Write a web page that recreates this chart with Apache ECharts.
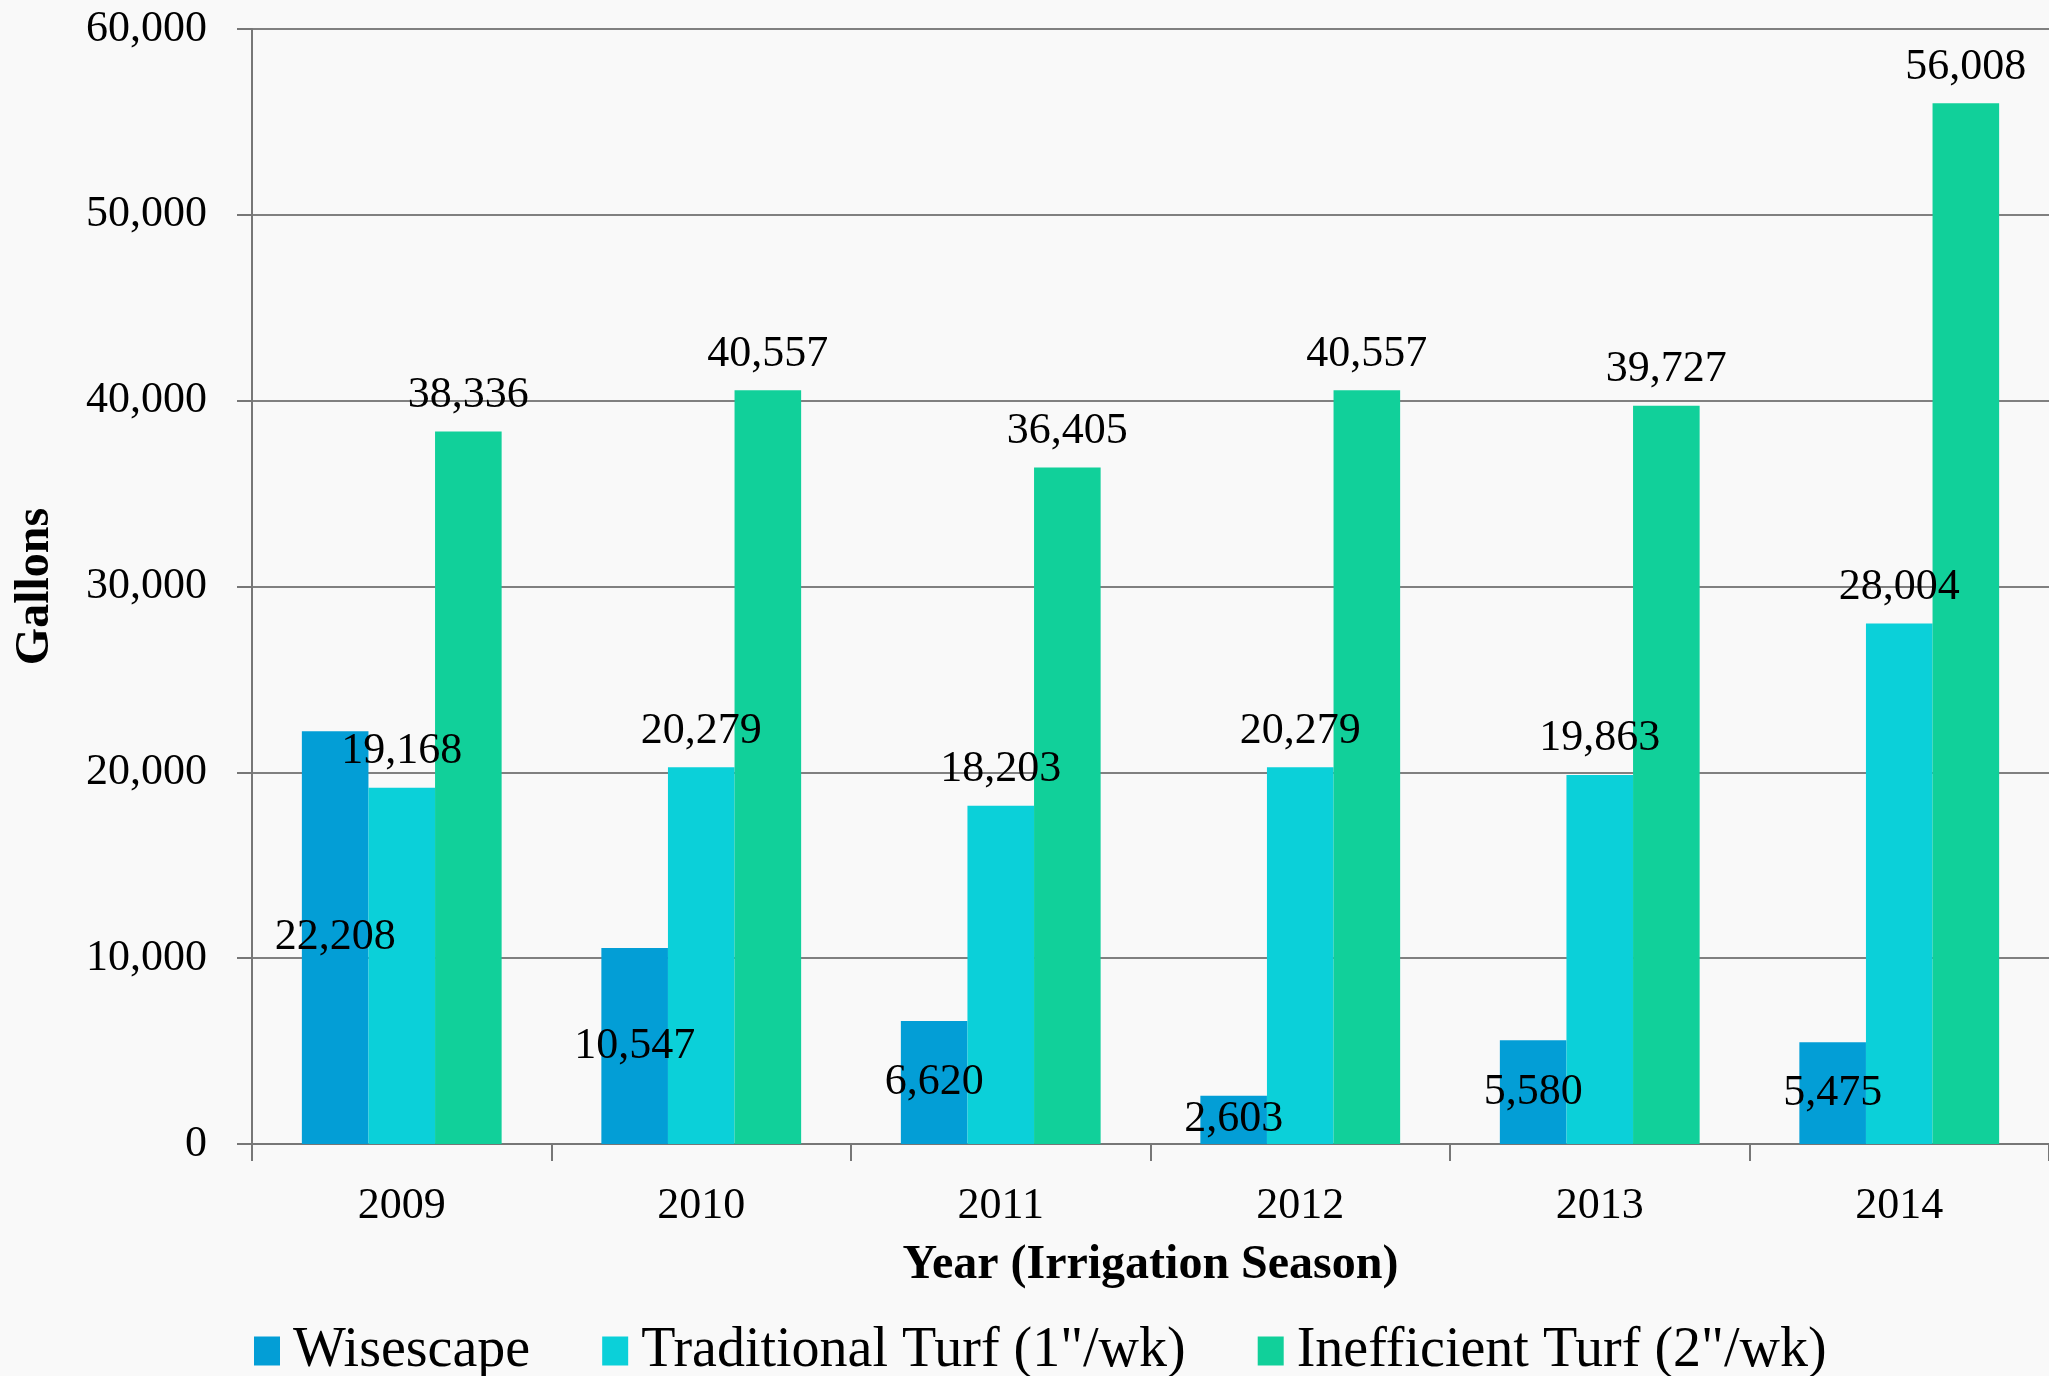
<!DOCTYPE html>
<html>
<head>
<meta charset="utf-8">
<script src="https://cdn.jsdelivr.net/npm/echarts@6/dist/echarts.min.js"></script>
<style>
  html, body { margin: 0; padding: 0; background: #f9f9f9; }
  #chart { width: 2049px; height: 1376px; }
</style>
</head>
<body>
<div id="chart"></div>
<script>
const years = ['2009', '2010', '2011', '2012', '2013', '2014']
const wisescape = [22208, 10547, 6620, 2603, 5580, 5475]
const traditionalTurf = [19168, 20279, 18203, 20279, 19863, 28004]
const inefficientTurf = [38336, 40557, 36405, 40557, 39727, 56008]
const seriesNames = ['Wisescape', 'Traditional Turf (1"/wk)', 'Inefficient Turf (2"/wk)']

const FONT = '"Liberation Serif", "DejaVu Serif", serif'
const fmt = v => Number(v).toLocaleString('en-US')

const chart = echarts.init(document.getElementById('chart'))

function barSeries(name, data, color, labelPos) {
  return {
    name,
    type: 'bar',
    data,
    barGap: 0,
    barCategoryGap: '33.3%',
    itemStyle: { color },
    label: {
      show: true,
      position: labelPos,
      distance: 14,
      color: '#000',
      fontFamily: FONT,
      fontSize: 44,
      formatter: p => fmt(p.value)
    }
  }
}

chart.setOption({
  backgroundColor: '#f9f9f9',
  animation: false,
  grid: { left: 252, right: 0, top: 29, bottom: 232, containLabel: false, outerBoundsMode: 'none' },
  legend: {
    data: seriesNames,
    left: 249,
    top: 1318,
    icon: 'rect',
    itemWidth: 26,
    itemHeight: 29,
    itemGap: 72,
    textStyle: { fontFamily: FONT, fontSize: 56, color: '#000', padding: [0, 0, 0, 8] }
  },
  xAxis: {
    type: 'category',
    data: years,
    name: 'Year (Irrigation Season)',
    nameLocation: 'middle',
    nameGap: 98,
    nameTextStyle: { fontFamily: FONT, fontSize: 48, fontWeight: 'bold', color: '#000' },
    axisLine: { lineStyle: { color: '#777', width: 2 } },
    axisTick: { show: true, length: 17, lineStyle: { color: '#777', width: 2 } },
    axisLabel: { margin: 40, fontFamily: FONT, fontSize: 44, color: '#000' }
  },
  yAxis: {
    type: 'value',
    min: 0,
    max: 60000,
    interval: 10000,
    name: 'Gallons',
    nameLocation: 'middle',
    nameGap: 192,
    nameTextStyle: { fontFamily: FONT, fontSize: 48, fontWeight: 'bold', color: '#000' },
    axisLine: { show: true, lineStyle: { color: '#777', width: 2 } },
    axisTick: { show: true, length: 15, lineStyle: { color: '#777', width: 2 } },
    axisLabel: { margin: 45, fontFamily: FONT, fontSize: 44, color: '#000', formatter: fmt },
    splitLine: { lineStyle: { color: '#808080', width: 2 } }
  },
  series: [
    barSeries(seriesNames[0], wisescape, '#039ED6', 'inside'),
    barSeries(seriesNames[1], traditionalTurf, '#0BD0D9', 'top'),
    barSeries(seriesNames[2], inefficientTurf, '#11D09A', 'top')
  ]
})

window.addEventListener('resize', () => chart.resize())
</script>
</body>
</html>
